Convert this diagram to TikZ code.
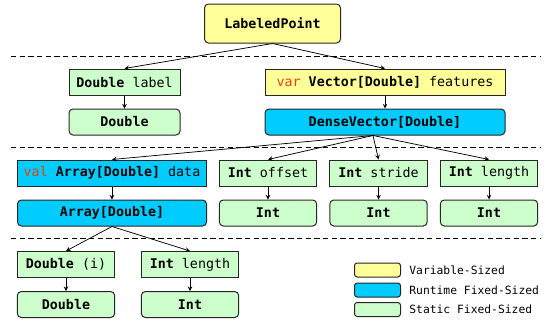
\documentclass[tikz,border=0pt]{standalone}
\usepackage{fontspec}
\setmonofont{DejaVu Sans Mono}
\usepackage{xcolor}
\usetikzlibrary{shapes,arrows,positioning}

\definecolor{varyellow}{HTML}{FFFF99}
\definecolor{rtcyan}{HTML}{00CCFF}
\definecolor{stgreen}{HTML}{CCFFCC}
\definecolor{kwred}{HTML}{DD4411}

\begin{document}
\begin{tikzpicture}[x=0.75pt, y=-0.75pt, ->, >=stealth, line width=0.55pt, node distance=9.75pt,
	font=\ttfamily\fontsize{10}{12}\selectfont,
	box/.style={draw=black!85, line width=0.75pt, minimum height=19.5pt, inner sep=1pt},
	field/.style={box},
	type/.style={box, rounded corners=3pt},
	varsized/.style={fill=varyellow},
	rtsized/.style={fill=rtcyan},
	stsized/.style={fill=stgreen},
	legbox/.style={draw=black!85, line width=0.75pt, rounded corners=2pt, minimum width=34.5pt, minimum height=10.5pt, inner sep=0pt},
	legtext/.style={anchor=west, inner sep=0pt, font=\ttfamily\fontsize{8.5}{10}\selectfont},
	sep/.style={-, dash pattern=on 4pt off 2.5pt, line width=0.6pt}]
	\useasboundingbox (0,0) rectangle (551,325);

	% level 0
	\node[type, varsized, minimum width=102pt, minimum height=29.25pt] (lp) at (272.5,23.5) {\bfseries LabeledPoint};
	\draw[sep] (11,56) -- (540,56);

	% level 1
	\node[field, stsized, minimum width=83.25pt] (dlab) at (124.5,82) {{\bfseries Double} label};
	\node[type, stsized, minimum width=83.25pt] (dbl) [below=of dlab] {\bfseries Double};
	\node[field, varsized, minimum width=180pt] (vec) at (385,82) {\textcolor{kwred}{var} {\bfseries Vector[Double]} features};
	\node[type, rtsized, minimum width=180pt] (dense) [below=of vec] {\bfseries DenseVector[Double]};
	\draw[sep] (11,147) -- (540,147);

	% level 2
	\node[field, rtsized, minimum width=141.75pt] (data) at (112,173) {\textcolor{kwred}{val} {\bfseries Array[Double]} data};
	\node[type, rtsized, minimum width=141.75pt] (arr) [below=of data] {\bfseries Array[Double]};
	\node[field, stsized, minimum width=73pt] (off) at (268,173) {{\bfseries Int} offset};
	\node[type, stsized, minimum width=73pt] (offint) [below=of off] {\bfseries Int};
	\node[field, stsized, minimum width=73pt] (str) at (378.5,173) {{\bfseries Int} stride};
	\node[type, stsized, minimum width=73pt] (strint) [below=of str] {\bfseries Int};
	\node[field, stsized, minimum width=73pt] (len) at (489,173) {{\bfseries Int} length};
	\node[type, stsized, minimum width=73pt] (lenint) [below=of len] {\bfseries Int};
	\draw[sep] (11,238) -- (540,238);

	% level 3
	\node[field, stsized, minimum width=73pt] (elem) at (66,264.5) {{\bfseries Double} (i)};
	\node[type, stsized, minimum width=73pt] (elemdbl) [below=of elem] {\bfseries Double};
	\node[field, stsized, minimum width=73pt] (alen) at (190,264.5) {{\bfseries Int} length};
	\node[type, stsized, minimum width=73pt] (alenint) [below=of alen] {\bfseries Int};

	% legend
	\node[legbox, varsized] (lvar) at (377.5,270) {};
	\node[legbox, rtsized] (lrt) at (377.5,290) {};
	\node[legbox, stsized] (lst) at (377.5,309.5) {};
	\node[legtext] (tvar) at (409,270) {Variable-Sized};
	\node[legtext] (trt) at (409,290) {Runtime Fixed-Sized};
	\node[legtext] (tst) at (409,309.5) {Static Fixed-Sized};

	\coordinate (fan) at ([xshift=-9pt]dense.south);
	\path (lp.south) edge (dlab.north)
	(lp.south) edge (vec.north)
	(dlab) edge (dbl)
	(vec) edge (dense)
	(fan) edge (data.north)
	(fan) edge (off.north)
	(fan) edge (str.north)
	(fan) edge (len.north)
	(data) edge (arr)
	(off) edge (offint)
	(str) edge (strint)
	(len) edge (lenint)
	(arr.south) edge (elem.north)
	(arr.south) edge (alen.north)
	(elem) edge (elemdbl)
	(alen) edge (alenint);
\end{tikzpicture}
\end{document}
